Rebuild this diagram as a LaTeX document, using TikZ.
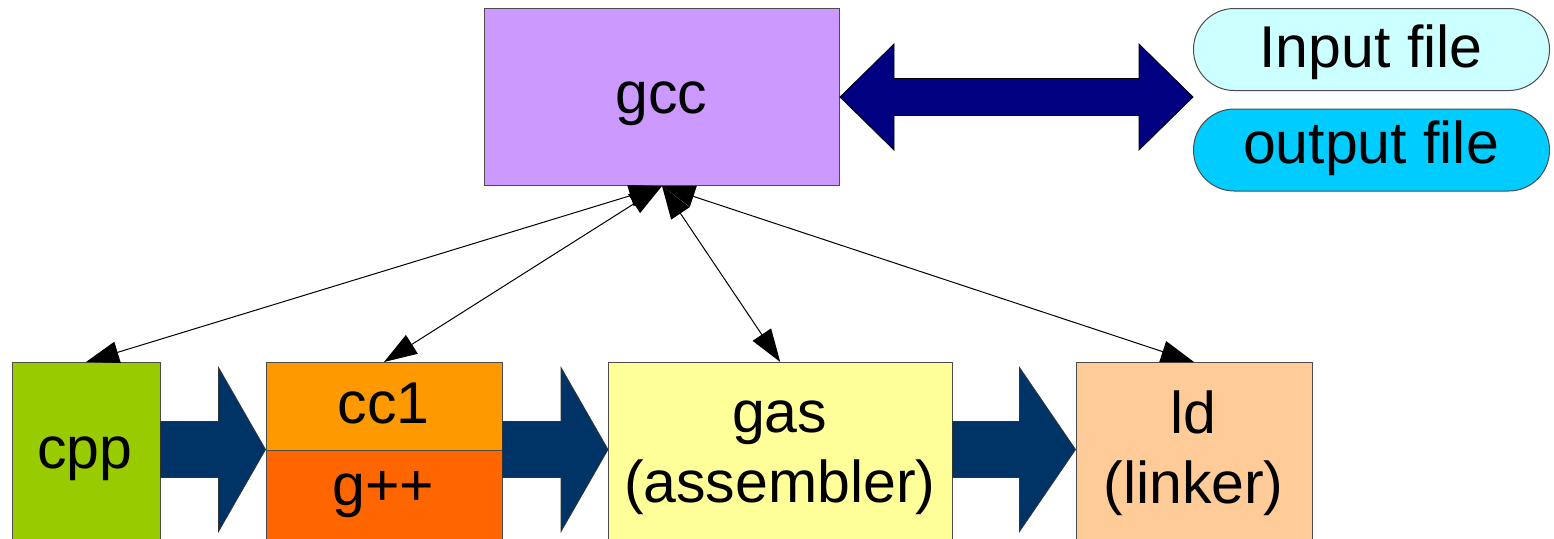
\documentclass[tikz,border=0pt]{standalone}
\usepackage{fontspec}
\setmainfont{Liberation Sans}
\usetikzlibrary{arrows.meta,calc}
\definecolor{gccfill}{HTML}{CC99FF}
\definecolor{infill}{HTML}{CCFFFF}
\definecolor{outfill}{HTML}{00CCFF}
\definecolor{cppfill}{HTML}{99CC00}
\definecolor{ccfill}{HTML}{FF9900}
\definecolor{gppfill}{HTML}{FF6600}
\definecolor{gasfill}{HTML}{FFFF99}
\definecolor{ldfill}{HTML}{FFCC99}
\definecolor{flowcol}{HTML}{003366}
\definecolor{iocol}{HTML}{000080}
\newcommand\blockarr[3]{%
  \filldraw[barrow] ($(#1.east |- mid)+(0,-28)$) -- ($(#2.west |- mid)+(-#3,-28)$)
    -- ($(#2.west |- mid)+(-#3,-82)$) -- (#2.west |- mid)
    -- ($(#2.west |- mid)+(-#3,82)$) -- ($(#2.west |- mid)+(-#3,28)$)
    -- ($(#1.east |- mid)+(0,28)$) -- cycle;}
\begin{document}
\begin{tikzpicture}[x=0.5pt,y=-0.5pt,
  box/.style={draw=black!70, line width=0.5pt, anchor=north west, inner sep=0pt},
  pill/.style={box, rounded corners=20.4pt},
  lbl/.style={font=\fontsize{29.5}{35}\selectfont, anchor=base, align=center, inner sep=0pt},
  barrow/.style={fill=flowcol, draw=black!80, line width=0.4pt},
  dbarrow/.style={fill=iocol, draw=black, line width=0.4pt},
  conn/.style={draw=black, line width=0.5pt, {Triangle[length=16.5pt,width=11pt]}-{Triangle[length=16.5pt,width=11pt]}}]
\useasboundingbox (0,0) rectangle (1554,538);
\clip (0,0) rectangle (1554,538);
% boxes
\node[box, fill=gccfill, minimum width=177.5pt, minimum height=88.5pt] (gcc) at (484,8) {};
\node[pill, fill=infill, minimum width=178pt, minimum height=41pt] (inp) at (1193,8) {};
\node[pill, fill=outfill, minimum width=178pt, minimum height=41pt] (outp) at (1193,108.5) {};
\node[box, fill=cppfill, minimum width=74pt, minimum height=100pt] (cpp) at (11.5,362) {};
\node[box, fill=ccfill, minimum width=118pt, minimum height=43.75pt] (ccone) at (265.5,362) {};
\node[box, fill=gppfill, minimum width=118pt, minimum height=60pt] (gpp) at (265.5,449.5) {};
\node[box, fill=gasfill, minimum width=171.75pt, minimum height=100pt] (gas) at (608,362) {};
\node[box, fill=ldfill, minimum width=118pt, minimum height=100pt] (ld) at (1075.5,362) {};
% labels (base = baseline of the last line)
\node[lbl] (tgcc) at (661.5,113) {gcc};
\node[lbl] (tin) at (1371,67) {Input file};
\node[lbl] (tout) at (1371,163) {output file};
\node[lbl] (tcpp) at (85,468) {cpp};
\node[lbl] (tcc) at (383.5,423) {cc1};
\node[lbl] (tgpp) at (383.5,505) {g++};
\node[lbl] (tgas) at (779.75,502) {gas\\(assembler)};
\node[lbl] (tld) at (1193.5,503) {ld\\(linker)};
% flow arrows
\coordinate (mid) at (0,449.5);
\blockarr{cpp}{ccone}{47}
\blockarr{ccone}{gas}{47}
\blockarr{gas}{ld}{56}
% double arrow
\coordinate (L) at (gcc.east);
\coordinate (R) at (inp.west |- gcc.east);
\filldraw[dbarrow] (L) -- ($(L)+(54,-53)$) -- ($(L)+(54,-18.5)$) -- ($(R)+(-54,-18.5)$)
  -- ($(R)+(-54,-53)$) -- (R) -- ($(R)+(-54,53)$) -- ($(R)+(-54,18.5)$)
  -- ($(L)+(54,18.5)$) -- ($(L)+(54,53)$) -- cycle;
% connectors
\draw[conn] (gcc.south) -- (cpp.north);
\draw[conn] (gcc.south) -- (ccone.north);
\draw[conn] (gcc.south) -- (gas.north);
\draw[conn] (gcc.south) -- (ld.north);
\end{tikzpicture}
\end{document}
